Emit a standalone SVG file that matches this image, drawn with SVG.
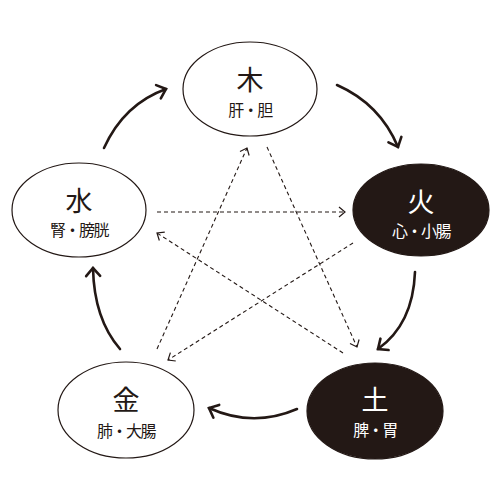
<svg xmlns="http://www.w3.org/2000/svg" width="500" height="500" viewBox="0 0 500 500">
<defs>
<style>
.node-light{fill:#ffffff;stroke:#231815;stroke-width:1.2}
.node-dark{fill:#231815;stroke:#231815;stroke-width:1.2}
.main{font-family:"Noto Sans CJK JP","Noto Sans CJK SC",sans-serif;font-size:27px;text-anchor:middle;dominant-baseline:central}
.sub{font-family:"Noto Sans CJK JP","Noto Sans CJK SC",sans-serif;font-size:16px;letter-spacing:-1.5px;text-anchor:middle;dominant-baseline:central}
.dk{fill:#231815}
.lt{fill:#ffffff}
.solid{fill:none;stroke:#231815;stroke-width:2.6;stroke-linecap:round;marker-end:url(#ah)}
.dash{fill:none;stroke:#231815;stroke-width:1.1;stroke-dasharray:4 3;marker-end:url(#ahd)}
</style>
<marker id="ah" viewBox="-12 -9 14 18" refX="0" refY="0" markerWidth="14" markerHeight="18" markerUnits="userSpaceOnUse" orient="auto" overflow="visible">
<path d="M-8,-7 L0,0 L-8,7" fill="none" stroke="#231815" stroke-width="2.6" stroke-linecap="round" stroke-linejoin="miter"/>
</marker>
<marker id="ahd" viewBox="-10 -7 12 14" refX="0" refY="0" markerWidth="12" markerHeight="14" markerUnits="userSpaceOnUse" orient="auto" overflow="visible">
<path d="M-6,-5 L0,0 L-6,5" fill="none" stroke="#231815" stroke-width="1.2"/>
</marker>
</defs>
<rect width="500" height="500" fill="#ffffff"/>
<g id="connectors">
<path class="solid" d="M104,148 Q124,104 166,89"/>
<path class="solid" d="M337,85 Q380,104 398,147"/>
<path class="solid" d="M415,272 Q413,324 378,349"/>
<path class="solid" d="M297,409 Q253,428 209,408"/>
<path class="solid" d="M120,349 Q94,319 93,268"/>
<path class="dash" d="M157,212 L345,212"/>
<path class="dash" d="M353,243 L168,360"/>
<path class="dash" d="M343,353 L157,233"/>
<path class="dash" d="M157,349 L247,148"/>
<path class="dash" d="M267,147 L357,347"/>
</g>
<g id="wood">
<ellipse class="node-light" cx="250" cy="89" rx="67" ry="47"/>
<text class="main dk" x="250" y="78">木</text>
<text class="sub dk" x="250" y="109">肝・胆</text>
</g>
<g id="fire">
<ellipse class="node-dark" cx="421" cy="210" rx="68" ry="46"/>
<text class="main lt" x="421" y="200">火</text>
<text class="sub lt" x="421" y="230">心・小腸</text>
</g>
<g id="water">
<ellipse class="node-light" cx="79" cy="210" rx="67" ry="47"/>
<text class="main dk" x="79" y="199">水</text>
<text class="sub dk" x="79" y="229">腎・膀胱</text>
</g>
<g id="metal">
<ellipse class="node-light" cx="126" cy="410" rx="68" ry="48"/>
<text class="main dk" x="126" y="398">金</text>
<text class="sub dk" x="126" y="430">肺・大腸</text>
</g>
<g id="earth">
<ellipse class="node-dark" cx="375" cy="411" rx="68" ry="48"/>
<text class="main lt" x="375" y="398">土</text>
<text class="sub lt" x="375" y="429">脾・胃</text>
</g>
</svg>
